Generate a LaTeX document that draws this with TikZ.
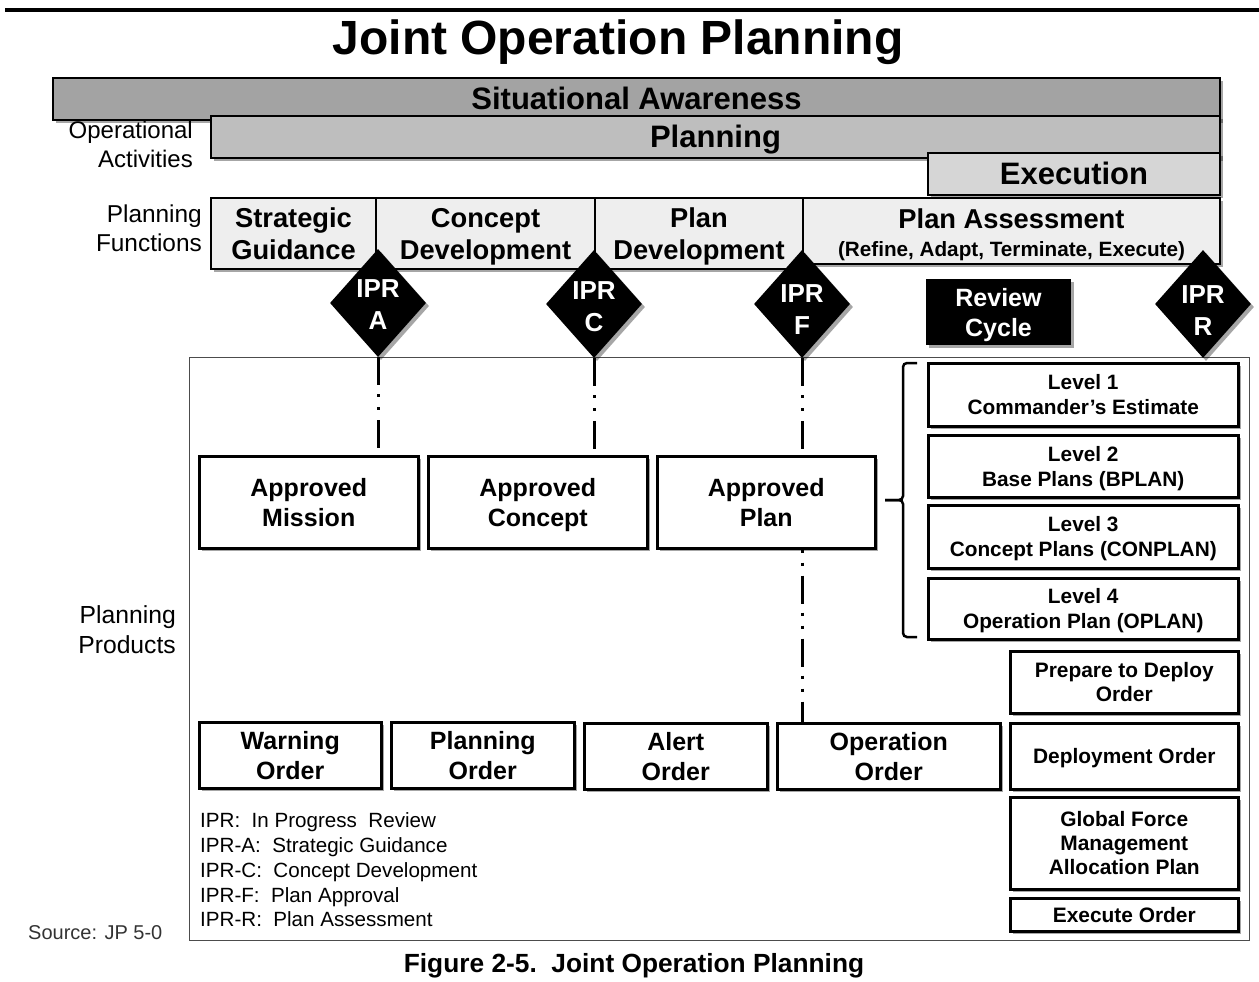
\documentclass[tikz,border=0pt]{standalone}
\usepackage{fontspec}
\setmainfont{Liberation Sans}
\usetikzlibrary{shapes.geometric,shadows}
\definecolor{sagray}{HTML}{A3A3A3}
\definecolor{plgray}{HTML}{BEBEBE}
\definecolor{exgray}{HTML}{D6D6D6}
\definecolor{fngray}{HTML}{EEEEEE}
\makeatletter
\newcommand\topst{\rule{0pt}{\dimexpr.3\baselineskip+.72\dimexpr\f@size pt\relax\relax}}
\newcommand\botst{\rule[-.3\baselineskip]{0pt}{.3\baselineskip}}
\makeatother
\begin{document}
\begin{tikzpicture}[x=1pt,y=-1pt,
  shd/.style={drop shadow={shadow xshift=3pt,shadow yshift=-3pt,fill=black,opacity=0.35}},
  bar/.style={draw=black,line width=2pt,shd,inner sep=0pt,anchor=north west,
    font=\fontsize{31}{32}\selectfont\bfseries},
  fnbox/.style={draw=black,line width=2pt,fill=fngray,shd,inner sep=0pt,anchor=north west,
    minimum height=66pt,align=center,font=\fontsize{27.3}{32}\selectfont\bfseries},
  prod/.style={draw=black,line width=2.5pt,fill=white,shd,inner sep=0pt,anchor=north west,
    align=center,font=\fontsize{25}{30}\selectfont\bfseries},
  lvl/.style={draw=black,line width=2.5pt,fill=white,shd,inner sep=0pt,anchor=north west,
    align=center,minimum width=310pt,font=\fontsize{20.8}{25}\selectfont\bfseries},
  ordr/.style={draw=black,line width=2.5pt,fill=white,shd,inner sep=0pt,anchor=north west,
    align=center,minimum width=228pt,font=\fontsize{20.9}{24}\selectfont\bfseries},
  ipr/.style={diamond,fill=black,shd,inner sep=0pt,minimum width=96pt,minimum height=108pt},
  iprtext/.style={text=white,align=center,inner sep=0pt,font=\fontsize{26}{32}\selectfont\bfseries},
  sidelabel/.style={align=right,anchor=east,inner sep=0pt},
  ipline/.style={line width=3pt,dash pattern=on 28pt off 9pt on 3pt off 10pt on 3pt off 10pt},
  bracestyle/.style={line width=2.5pt,rounded corners=4pt}
]
\useasboundingbox (0,0) rectangle (1259,982);
% top rule
\draw[line width=4pt] (5,10) -- (1259,10);
% title
\node[inner sep=0pt,font=\fontsize{48}{50}\selectfont\bfseries] (title) at (618,42) {Joint Operation Planning};
% activity bars
\node[bar,fill=sagray,minimum width=1167pt,minimum height=38pt] (sa) at (52,77) {\topst Situational Awareness\botst};
\node[bar,fill=plgray,minimum width=1009pt,minimum height=37pt] (pl) at (210,115) {\topst Planning\botst};
\node[bar,fill=exgray,minimum width=292pt,minimum height=38pt] (ex) at (927,152) {\topst Execution\botst};
\node[sidelabel,font=\fontsize{24}{29}\selectfont] (opact) at (193,144) {Operational\\Activities};
% planning functions
\node[fnbox,minimum width=165pt] (sg) at (210,197) {\topst Strategic\\Guidance\botst};
\node[fnbox,minimum width=219pt] (cd) at (375,197) {\topst Concept\\Development\botst};
\node[fnbox,minimum width=208pt] (pd) at (594,197) {\topst Plan\\Development\botst};
\node[fnbox,minimum width=417pt] (pa) at (802,197) {\topst Plan Assessment\\[-4pt]{\fontsize{20.7}{24}\selectfont (Refine, Adapt, Terminate, Execute)\botst}};
\node[sidelabel,font=\fontsize{24.4}{29}\selectfont] (plfun) at (202,228) {Planning\\Functions};
% products frame
\node[draw=black!70,line width=1.3pt,anchor=north west,minimum width=1060pt,minimum height=583pt,inner sep=0pt] (frame) at (189,357) {};
\node[sidelabel,font=\fontsize{24.7}{30}\selectfont] (plprod) at (176,630) {Planning\\Products};
% IPR diamonds
\node[ipr] (ipra) at (378,303) {};
\node[iprtext] (ipraT) at (378,304) {\topst IPR\\A\botst};
\node[ipr] (iprc) at (594,304) {};
\node[iprtext] (iprcT) at (594,306) {\topst IPR\\C\botst};
\node[ipr] (iprf) at (802,304) {};
\node[iprtext] (iprfT) at (802,309) {\topst IPR\\F\botst};
\node[ipr] (iprr) at (1203,304) {};
\node[iprtext] (iprrT) at (1203,310) {\topst IPR\\R\botst};
% review cycle
\node[fill=black,shd,text=white,align=center,inner sep=0pt,minimum width=145pt,minimum height=66pt,
  font=\fontsize{25}{30}\selectfont\bfseries] (review) at (998.5,312) {\topst Review\\Cycle\botst};
% approved boxes
\node[prod,minimum width=219pt,minimum height=92pt] (mission) at (198,455) {\topst Approved\\Mission\botst};
\node[prod,minimum width=219pt,minimum height=92pt] (concept) at (427,455) {\topst Approved\\Concept\botst};
\node[prod,minimum width=218pt,minimum height=92pt] (plan) at (656,455) {\topst Approved\\Plan\botst};
% connectors
\draw[ipline] (ipra.south) -- (ipra.south |- mission.north);
\draw[ipline] (iprc.south) -- (iprc.south |- concept.north);
\draw[ipline] (iprf.south) -- (iprf.south |- plan.north);
% level boxes
\node[lvl,minimum height=63pt] (lv1) at (927,362) {\topst Level 1\\Commander’s Estimate\botst};
\node[lvl,minimum height=62pt] (lv2) at (927,434) {\topst Level 2\\Base Plans (BPLAN)\botst};
\node[lvl,minimum height=63pt] (lv3) at (927,504) {\topst Level 3\\Concept Plans (CONPLAN)\botst};
\node[lvl,minimum height=61pt] (lv4) at (927,577) {\topst Level 4\\Operation Plan (OPLAN)\botst};
% brace
\coordinate (bracetip) at (885,500);
\draw[bracestyle] (917,363) -- (903,363) -- (903,500) -- (bracetip);
\draw[bracestyle] (bracetip) -- (903,500) -- (903,637) -- (917,637);
% right column orders
\node[ordr,minimum height=62pt] (ptdo) at (1009,650) {\topst Prepare to Deploy\\Order\botst};
\node[ordr,minimum height=66pt] (depord) at (1009,722) {\topst Deployment Order\botst};
\node[ordr,minimum height=92pt] (gfm) at (1009,796) {\topst Global Force\\Management\\Allocation Plan\botst};
\node[ordr,minimum height=33pt] (exord) at (1009,897) {\topst Execute Order\botst};
% bottom orders
\node[prod,minimum width=182pt,minimum height=63pt] (warn) at (198,721) {\topst Warning\\Order\botst};
\node[prod,minimum width=183pt,minimum height=63pt] (plord) at (390,721) {\topst Planning\\Order\botst};
\node[prod,minimum width=183pt,minimum height=63pt] (alert) at (583,722) {\topst Alert\\Order\botst};
\node[prod,minimum width=223pt,minimum height=63pt] (opord) at (776,722) {\topst Operation\\Order\botst};
\draw[ipline,dash phase=37pt] (iprf.south |- plan.south) -- (iprf.south |- opord.north);
% legend
\node[anchor=west,align=left,inner sep=0pt,font=\fontsize{20.6}{24.75}\selectfont] (legend) at (200,870)
 {IPR:\ \ In Progress\ \ Review\\IPR-A:\ \ Strategic Guidance\\IPR-C:\ \ Concept Development\\IPR-F:\ \ Plan Approval\\IPR-R:\ \ Plan Assessment};
\node[anchor=west,inner sep=0pt,text=black!80,font=\fontsize{20}{24}\selectfont] (source) at (28,933) {Source: JP 5-0};
% caption
\node[inner sep=0pt,font=\fontsize{26.3}{30}\selectfont\bfseries] (caption) at (634,966) {Figure 2-5.\ \ Joint Operation Planning};
\end{tikzpicture}
\end{document}
